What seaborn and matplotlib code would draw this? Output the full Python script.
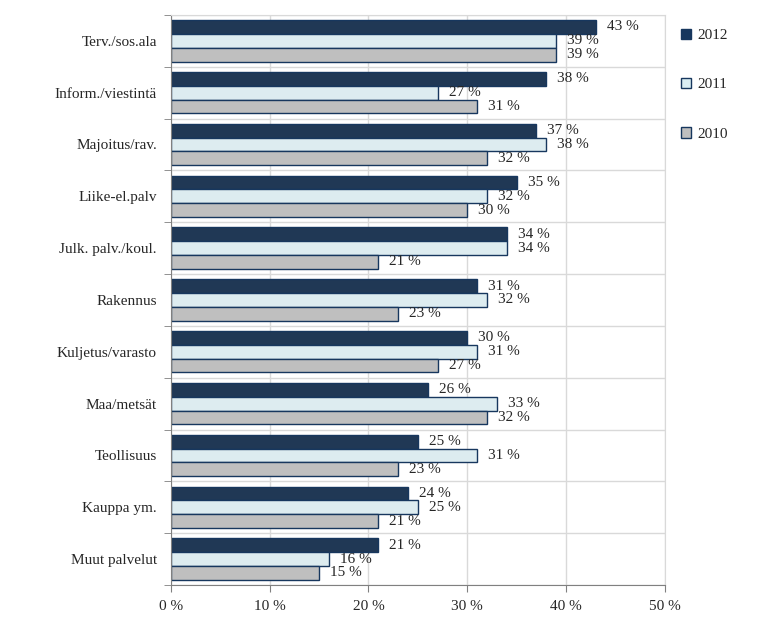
import pandas as pd
import seaborn as sns
import matplotlib.pyplot as plt
from matplotlib.patches import Patch

sectors = ["Terv./sos.ala", "Inform./viestintä", "Majoitus/rav.", "Liike-el.palv",
           "Julk. palv./koul.", "Rakennus", "Kuljetus/varasto", "Maa/metsät",
           "Teollisuus", "Kauppa ym.", "Muut palvelut"]
years = ["2012", "2011", "2010"]
v2012 = [43, 38, 37, 35, 34, 31, 30, 26, 25, 24, 21]
v2011 = [39, 27, 38, 32, 34, 32, 31, 33, 31, 25, 16]
v2010 = [39, 31, 32, 30, 21, 23, 27, 32, 23, 21, 15]
colors = ["#17375E", "#DAEEF3", "#BFBFBF"]

df = pd.DataFrame({
    "sector": sectors * 3,
    "year": [y for y in years for _ in sectors],
    "value": v2012 + v2011 + v2010,
})

sns.set_style("white")
plt.rcParams["font.family"] = ["Liberation Serif", "DejaVu Serif"]
fs = 11

fig = plt.figure(figsize=(7.73, 6.21), dpi=100)
ax = fig.add_axes([0.221, 0.058, 0.639, 0.918])

sns.barplot(data=df, y="sector", x="value", hue="year", hue_order=years,
            order=sectors, palette=colors, width=0.8, edgecolor="#17375E",
            linewidth=1, ax=ax, legend=False)

for cont in ax.containers:
    vals = [int(round(b.get_width())) for b in cont]
    ax.bar_label(cont, labels=[f"{v} %" for v in vals], padding=8, fontsize=fs)

ax.set_xlim(0, 50)
ax.set_ylim(len(sectors) - 0.5, -0.5)
ax.set_xticks(range(0, 51, 10))
ax.set_xticklabels([f"{t} %" for t in range(0, 51, 10)], fontsize=fs)
ax.set_yticks(range(len(sectors)))
ax.set_yticklabels(sectors, fontsize=fs)
ax.set_yticks([i + 0.5 for i in range(-1, len(sectors))], minor=True)
ax.set_xlabel("")
ax.set_ylabel("")

ax.grid(True, axis="x", which="major", color="#D9D9D9", linewidth=1)
ax.grid(True, axis="y", which="minor", color="#D9D9D9", linewidth=1)
ax.set_axisbelow(True)
ax.tick_params(axis="y", which="major", length=0, pad=10)
ax.tick_params(axis="y", which="minor", length=5, color="#808080", left=True)
ax.tick_params(axis="x", which="major", length=5, color="#808080", bottom=True, pad=6)

for side in ["left", "bottom"]:
    ax.spines[side].set_color("#808080")
for side in ["top", "right"]:
    ax.spines[side].set_color("#D9D9D9")

handles = [Patch(facecolor=c, edgecolor="#17375E", linewidth=1) for c in colors]
ax.legend(handles, years, loc="upper left", bbox_to_anchor=(1.005, 1.0),
          frameon=False, fontsize=fs, labelspacing=2.35, handlelength=0.65,
          handleheight=0.65, handletextpad=0.4)

fig.savefig("out.png", dpi=100)
